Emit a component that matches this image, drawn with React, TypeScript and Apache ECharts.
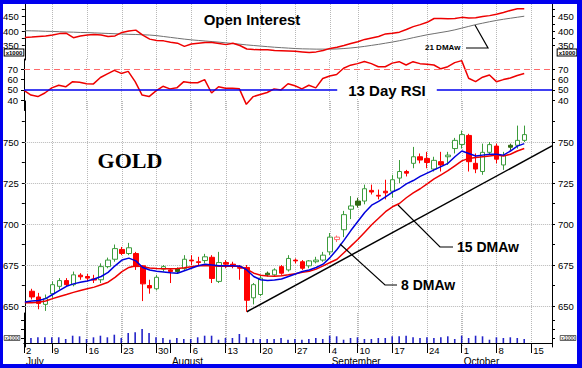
import React, { useEffect, useRef } from 'react';
import * as echarts from 'echarts';

const FONT = '"Liberation Sans", Arial, Helvetica, sans-serif';
const SERIF = '"Liberation Serif", "Times New Roman", serif';
const BLUE = '#0000ee';

// trading days (2007)
const julyDays = [2, 3, 5, 6, 9, 10, 11, 12, 13, 16, 17, 18, 19, 20, 23, 24, 25, 26, 27, 30, 31];
const augustDays = [1, 2, 3, 6, 7, 8, 9, 10, 13, 14, 15, 16, 17, 20, 21, 22, 23, 24, 27, 28, 29, 30, 31];
const septemberDays = [4, 5, 6, 7, 10, 11, 12, 13, 14, 17, 18, 19, 20, 21, 24, 25, 26, 27, 28];
const octoberDays = [1, 2, 3, 4, 5, 8, 9, 10, 11, 12, 15, 16, 17, 18];
const monthNames = ['July', 'August', 'September', 'October'];

// price candles (index 0 = Jul 2, not drawn)
const open = [null, 659, 655.5, 651, 657.5, 662, 665.5, 663, 668.8, 668, 666.5, 666, 674, 678.5, 684.5, 682, 682, 674.5, 662.5, 660.5, 672.5, 672, 671, 672.8, 678, 677, 677.7, 679.7, 665, 676.5, 675.5, 673.5, 673.5, 655, 657, 669, 669, 674, 672, 678, 677, 674.5, 677, 678, 683, 690.5, 696.5, 709, 711.5, 714, 720.5, 717.5, 720, 720, 728, 732, 737, 741, 740, 733.5, 738, 741, 746, 748.5, 754, 737, 732, 743.7, 747.5, 736, 746.8, 748, 751];
const high = [null, 660.5, 658, 657, 665, 667, 667, 671, 670, 669.5, 669, 676, 679.5, 687.5, 686, 688.5, 683, 675, 666, 669, 675, 673, 673.5, 681, 681, 680, 681.8, 681, 683, 678, 677, 675, 675, 664, 669, 671, 673, 675, 681, 679, 678, 678, 680, 683, 694.5, 693, 708, 717, 716, 724, 724, 721, 727, 730, 739, 733, 747, 743, 744, 741, 744, 744, 752.5, 757, 755, 743, 749, 750, 749, 744, 749, 760, 760];
const low = [null, 654, 648, 647, 655, 660, 662, 662, 666, 665, 664, 664, 673, 677, 681, 681, 672, 653, 657.5, 659.5, 671, 664, 670, 672, 675, 675, 676, 664, 664, 673, 673, 666, 646.5, 651, 656, 668, 668, 669, 671, 676, 672, 673, 676, 677, 681, 689, 692, 703, 710, 712, 718, 715, 715, 716, 725, 729, 734, 737, 734, 732, 732, 736, 743, 746, 732, 731, 730, 742, 737, 733, 745, 746, 750];
const close = [null, 655.5, 651.5, 654.5, 663, 665.5, 663, 669, 667.8, 667, 665.8, 674, 678, 685, 682, 685.5, 674, 663.5, 661, 667.5, 674, 671, 672.8, 678.5, 677.5, 676.5, 680, 666.8, 676.5, 675.5, 675, 673, 653.5, 663, 667, 670, 672, 670, 679, 677.5, 673, 677.5, 678, 681, 692, 692, 705.7, 711, 714, 721.5, 719.5, 717, 719, 727, 732, 731, 741, 739, 737.5, 738.8, 736, 742, 751, 754.5, 738, 733.5, 743.7, 748.4, 739.5, 741.7, 748, 751, 754.5];
// candle colouring: u = hollow green, d = red, k = dark green filled, p = pink hollow
const candleKind = ['', 'd', 'd', 'u', 'u', 'u', 'd', 'u', 'd', 'd', 'd', 'u', 'u', 'u', 'd', 'u', 'd', 'd', 'd', 'u', 'u', 'd', 'k', 'u', 'd', 'd', 'u', 'd', 'u', 'd', 'd', 'd', 'd', 'u', 'u', 'k', 'u', 'd', 'u', 'd', 'd', 'u', 'u', 'u', 'u', 'p', 'u', 'u', 'k', 'u', 'd', 'd', 'd', 'u', 'u', 'd', 'u', 'd', 'd', 'u', 'd', 'u', 'u', 'u', 'd', 'd', 'u', 'u', 'd', 'u', 'k', 'u', 'u'];

const ma8 = [652.5, 653, 653.3, 654.5, 657, 659.5, 662, 663.5, 664.5, 665.3, 666.5, 668, 670.5, 674.5, 678, 679.2, 677.5, 673.5, 672, 671.2, 670.8, 670.3, 670, 671.5, 673, 674.5, 675.5, 675, 674.5, 674.5, 674.5, 674.3, 672, 668, 666, 665.5, 665.8, 666.5, 668, 669.5, 671, 672, 673.5, 675.5, 679.5, 684.5, 690, 696, 701.5, 707, 711.5, 713.8, 716.5, 719.5, 721.5, 724.5, 726.5, 729, 731, 733, 735, 737, 741, 744.5, 743, 741.5, 742, 742.5, 742.5, 742, 744.5, 747.5, 749];
const ma15 = [652, 652, 652.3, 653, 654.5, 655.8, 657, 658.3, 659.5, 660.5, 661.5, 663, 664.5, 667.5, 671, 673.5, 674.5, 674, 673.2, 672.8, 672.7, 672.7, 672.8, 673.3, 674, 674.5, 674.7, 674.5, 674.3, 674.3, 674.3, 674.2, 672.5, 670, 668.8, 668.3, 668.2, 668.5, 669, 669.7, 670.5, 671.2, 672.5, 674.5, 676.5, 678.5, 682.5, 686.5, 690.5, 695, 699.5, 703.5, 707.5, 710.5, 712.5, 716, 719, 721.5, 724.5, 727.5, 730, 732.5, 735.5, 738.5, 740, 740.5, 741, 741.5, 742, 741.5, 742.5, 744.5, 746];

const openInterest = [378, 379, 381, 383, 386, 391, 392, 377, 383, 386, 388, 386, 381, 383, 395, 400, 403, 386, 372, 367, 366, 361, 358, 347, 355, 358, 360, 360, 357, 353, 358, 350, 338, 336, 335, 335, 333, 332, 331, 330, 328, 326, 328, 333, 340, 344, 350, 357, 363, 371, 376, 381, 390, 392, 396, 405, 415, 422, 430, 443, 443, 442, 443, 447, 445, 446, 450, 453, 458, 464, 471, 477, 477];
const oiMA21 = [401, 400.5, 400, 399, 398.5, 397.5, 396.5, 396, 395, 394.5, 393.5, 392.5, 391.5, 390.5, 389.5, 388.5, 388, 387, 386, 384, 381, 378, 375, 372, 369.5, 367.5, 365.5, 363.5, 361.5, 359, 357, 354.5, 352, 350, 348, 346, 344, 342.5, 341, 339.5, 338.5, 338, 337.5, 337.5, 337.5, 338, 339.5, 341.5, 344, 347, 350.5, 354, 358, 362, 366.5, 371.5, 377, 382, 387, 391, 395, 399, 404, 410, 416, 422, 427, 432, 436.5, 440.5, 444, 447.5, 451];

const rsi13 = [49.5, 45, 43.5, 47, 52, 54.5, 53, 58, 57.5, 56, 55.8, 62, 65.5, 69, 66, 68, 58, 45, 43.5, 49, 53.5, 51, 52, 58, 57, 57, 60, 47, 53, 51.5, 51.5, 51, 36, 43.5, 45.5, 47.5, 51, 50, 56, 54, 51, 54.5, 52, 61, 63.5, 65, 71, 74, 75.5, 77.5, 75.5, 72.5, 72.5, 76, 77.4, 74.2, 77.4, 75.5, 75, 74.2, 70.5, 72.5, 76.5, 78.4, 61.3, 58, 62.3, 64.5, 58, 60, 61.5, 64, 66];

const volume = [null, 50, 57, 57, 57, 57, 40, 73, 67, 40, 57, 73, 57, 83, 50, 100, 107, 140, 100, 57, 50, 33, 50, 40, 40, 57, 73, 73, 33, 50, 50, 90, 57, 40, 40, 40, 40, 50, 33, 40, 33, 40, 50, 40, 73, 67, 33, 50, 57, 40, 40, 50, 50, 67, 67, 73, 57, 50, 57, 50, 57, 67, 40, 73, 50, 73, 67, 33, 57, 50, 57, 50, 40];

const oiLabels = [350, 400, 450];
const oiTicks = [350, 375, 400, 425, 450, 475];
const rsiLabels = [40, 50, 60, 70];
const priceLabels = [650, 675, 700, 725, 750];
const priceTicks = [650, 662.5, 675, 687.5, 700, 712.5, 725, 737.5, 750, 762.5];
const volTicks = [50, 140, 230];

// trend line anchors (category index, price)
const trendStart = [32, 646.5];
const trendEnd = [76, 747.6];

export default function App() {
  const ref = useRef<HTMLDivElement>(null);

  useEffect(() => {
    if (!ref.current) return;
    const chart = echarts.init(ref.current, undefined, { renderer: 'svg' });

    const monthDays = [julyDays, augustDays, septemberDays, octoberDays];
    const cats: string[] = [];
    const monthOf: number[] = [];
    const dayOf: number[] = [];
    const dowOf: number[] = [];
    monthDays.forEach((days, k) => {
      days.forEach((d) => {
        cats.push(monthNames[k].slice(0, 3) + ' ' + d);
        monthOf.push(k);
        dayOf.push(d);
        dowOf.push(new Date(2007, 6 + k, d).getDay());
      });
    });
    const weekStart = cats.map((_, i) => i === 0 || dowOf[i] < dowOf[i - 1]);
    const monthStart = cats.map((_, i) => i === 0 || monthOf[i] !== monthOf[i - 1]);

    const gridL = 24;
    const gridR = 30;
    const grids = [
      { left: gridL, right: gridR, top: 2, height: 58 },
      { left: gridL, right: gridR, top: 59, height: 51.5 },
      { left: gridL, right: gridR, top: 101, height: 246 },
      { left: gridL, right: gridR, top: 313, height: 30 },
    ];

    const vSplit = {
      show: true,
      interval: (i: number) => weekStart[i],
      lineStyle: { type: 'dotted', color: '#b8b8b8', width: 1 },
    };

    const xAxes: any[] = [0, 1, 2].map((g) => ({
      type: 'category',
      gridIndex: g,
      data: cats,
      boundaryGap: false,
      axisLine: { show: false },
      axisTick: { show: false },
      axisLabel: { show: false },
      splitLine: vSplit,
    }));
    xAxes.push({
      type: 'category',
      gridIndex: 3,
      data: cats,
      boundaryGap: false,
      axisLine: { show: true, lineStyle: { color: '#000', width: 1 } },
      axisTick: {
        show: true,
        length: 10,
        interval: (i: number) => weekStart[i] || monthStart[i],
        lineStyle: { color: '#000', width: 1 },
      },
      axisLabel: {
        show: true,
        interval: (i: number) => weekStart[i],
        formatter: (_v: string, i: number) => String(dayOf[i]),
        align: 'left',
        padding: [0, 0, 0, 2],
        margin: 2,
        fontSize: 9.5,
        color: '#000',
        fontFamily: FONT,
      },
      splitLine: vSplit,
    });
    xAxes.push({
      type: 'category',
      gridIndex: 3,
      position: 'bottom',
      offset: 10,
      data: cats,
      boundaryGap: false,
      axisLine: { show: true, lineStyle: { color: '#000', width: 1 } },
      axisTick: {
        show: true,
        length: 10,
        interval: (i: number) => monthStart[i],
        lineStyle: { color: '#000', width: 1 },
      },
      axisLabel: {
        show: true,
        interval: (i: number) => monthStart[i],
        formatter: (_v: string, i: number) => monthNames[monthOf[i]],
        align: 'left',
        padding: [0, 0, 0, 2],
        margin: 3,
        fontSize: 10,
        color: '#000',
        fontFamily: FONT,
      },
      splitLine: { show: false },
    });

    const yAx = (g: number, pos: string, min: number, max: number, interval: number, labels: number[], ticks: number[]) => ({
      type: 'value',
      gridIndex: g,
      position: pos,
      min,
      max,
      interval,
      axisLine: { show: true, lineStyle: { color: '#000', width: 1 } },
      axisTick: { show: true, length: 3, lineStyle: { color: '#000', width: 1 }, customValues: ticks },
      axisLabel: {
        show: labels.length > 0,
        customValues: labels,
        formatter: (v: number) => (labels.indexOf(v) >= 0 ? String(v) : ''),
        fontSize: 9.5,
        color: '#000',
        fontFamily: FONT,
        margin: 6,
      },
      splitLine: { show: false },
    });

    const yAxes = [
      yAx(0, 'left', 300, 500, 50, oiLabels, oiTicks),
      yAx(0, 'right', 300, 500, 50, oiLabels, oiTicks),
      yAx(1, 'left', 30, 80, 10, rsiLabels, rsiLabels),
      yAx(1, 'right', 30, 80, 10, rsiLabels, rsiLabels),
      yAx(2, 'left', 625, 775, 25, priceLabels, priceTicks),
      yAx(2, 'right', 625, 775, 25, priceLabels, priceTicks),
      yAx(3, 'left', 0, 300, 50, [], volTicks),
      yAx(3, 'right', 0, 300, 50, [], volTicks),
    ];

    const kindStyle: Record<string, any> = {
      k: { color: '#2f6a10', color0: '#2f6a10', borderColor: '#2f6a10', borderColor0: '#2f6a10' },
      p: { color: '#ffffff', color0: '#ffffff', borderColor: '#ff6a6a', borderColor0: '#ff6a6a' },
    };
    const candleData = open.map((o, i) => {
      if (o === null) return '-';
      const item: any = { value: [o, close[i], low[i], high[i]] };
      if (kindStyle[candleKind[i]]) item.itemStyle = kindStyle[candleKind[i]];
      return item;
    });

    const dotted = { type: 'dotted', color: '#b8b8b8', width: 1 };

    const option: any = {
      animation: false,
      backgroundColor: '#ffffff',
      textStyle: { fontFamily: FONT },
      grid: grids,
      xAxis: xAxes,
      yAxis: yAxes,
      series: [
        {
          type: 'line', name: 'Open Interest', xAxisIndex: 0, yAxisIndex: 0, data: openInterest,
          symbol: 'none', lineStyle: { color: '#ee0000', width: 1.5 }, z: 4,
        },
        {
          type: 'line', name: '21 DMAw', xAxisIndex: 0, yAxisIndex: 0, data: oiMA21,
          symbol: 'none', lineStyle: { color: '#707070', width: 1 }, z: 3,
        },
        {
          type: 'line', name: '13 Day RSI', xAxisIndex: 1, yAxisIndex: 2, data: rsi13,
          symbol: 'none', lineStyle: { color: '#ee0000', width: 1.5 }, z: 4,
          markLine: {
            silent: true, symbol: ['none', 'none'], label: { show: false },
            data: [
              { yAxis: 70, lineStyle: { color: '#ff6a6a', type: [6, 4], width: 1 } },
              { yAxis: 50, lineStyle: { color: '#0000ee', type: 'solid', width: 1.5 } },
            ],
          },
        },
        {
          type: 'candlestick', name: 'GOLD', xAxisIndex: 2, yAxisIndex: 4, data: candleData,
          barWidth: 5,
          itemStyle: { color: '#ffffff', color0: '#ff0000', borderColor: '#3c9c3c', borderColor0: '#ff0000', borderWidth: 1 },
          markLine: {
            silent: true, symbol: ['none', 'none'], label: { show: false }, z: 1,
            data: [
              ...priceLabels.map((v) => ({ yAxis: v, lineStyle: dotted })),
              [
                { coord: [cats[trendStart[0]], trendStart[1]], lineStyle: { color: '#000', type: 'solid', width: 1.5 } },
                { coord: [cats[trendEnd[0]], trendEnd[1]] },
              ],
            ],
          },
        },
        {
          type: 'line', name: '15 DMAw', xAxisIndex: 2, yAxisIndex: 4, data: ma15,
          symbol: 'none', lineStyle: { color: '#ee0000', width: 1.5 }, z: 5,
        },
        {
          type: 'line', name: '8 DMAw', xAxisIndex: 2, yAxisIndex: 4, data: ma8,
          symbol: 'none', lineStyle: { color: '#0000dd', width: 1.5 }, z: 6,
        },
        {
          type: 'bar', name: 'Volume', xAxisIndex: 3, yAxisIndex: 6, data: volume,
          barWidth: 1.6, itemStyle: { color: '#2323c8' },
        },
      ],
      graphic: [
        { type: 'rect', z: 100, shape: { x: 0, y: 0, width: 582, height: 4 }, style: { fill: BLUE } },
        { type: 'rect', z: 100, shape: { x: 0, y: 364, width: 582, height: 4 }, style: { fill: BLUE } },
        { type: 'rect', z: 100, shape: { x: 0, y: 0, width: 3, height: 368 }, style: { fill: BLUE } },
        { type: 'rect', z: 100, shape: { x: 577, y: 0, width: 5, height: 368 }, style: { fill: BLUE } },
        {
          type: 'text', z: 50, x: 252, y: 19,
          style: { text: 'Open Interest', fontSize: 15, fontWeight: 'bold', fontFamily: FONT, fill: '#000', align: 'center', verticalAlign: 'middle' },
        },
        {
          type: 'text', z: 50, x: 387, y: 90,
          style: { text: '13 Day RSI', fontSize: 15, fontWeight: 'bold', fontFamily: FONT, fill: '#000', align: 'center', verticalAlign: 'middle', backgroundColor: '#ffffff', padding: [1, 11] },
        },
        {
          type: 'text', z: 50, x: 130, y: 160,
          style: { text: 'GOLD', fontSize: 22, fontWeight: 'bold', fontFamily: SERIF, fill: '#000', align: 'center', verticalAlign: 'middle' },
        },
        {
          type: 'text', z: 50, x: 425, y: 47,
          style: { text: '21 DMAw', fontSize: 8, fontWeight: 'bold', fontFamily: FONT, fill: '#000', align: 'left', verticalAlign: 'middle' },
        },
        { type: 'polyline', z: 50, shape: { points: [[466, 48], [488, 48], [475, 25]] }, style: { stroke: '#000', lineWidth: 1.2, fill: null } },
        { type: 'polyline', z: 50, shape: { points: [[398, 205], [440, 247], [453, 247]] }, style: { stroke: '#000', lineWidth: 1.2, fill: null } },
        {
          type: 'text', z: 50, x: 457, y: 247,
          style: { text: '15 DMAw', fontSize: 14, fontWeight: 'bold', fontFamily: FONT, fill: '#000', align: 'left', verticalAlign: 'middle' },
        },
        { type: 'polyline', z: 50, shape: { points: [[340, 244], [385, 285], [397, 285]] }, style: { stroke: '#000', lineWidth: 1.2, fill: null } },
        {
          type: 'text', z: 50, x: 401, y: 285,
          style: { text: '8 DMAw', fontSize: 14, fontWeight: 'bold', fontFamily: FONT, fill: '#000', align: 'left', verticalAlign: 'middle' },
        },
        {
          type: 'text', z: 50, x: 14, y: 52.5,
          style: { text: 'x1000', fontSize: 6, fontWeight: 'bold', fontFamily: FONT, fill: '#000', align: 'center', verticalAlign: 'middle', backgroundColor: '#ffffff', borderColor: '#000', borderWidth: 1, padding: [0, 1] },
        },
        {
          type: 'text', z: 50, x: 567, y: 52.5,
          style: { text: 'x1000', fontSize: 6, fontWeight: 'bold', fontFamily: FONT, fill: '#000', align: 'center', verticalAlign: 'middle', backgroundColor: '#ffffff', borderColor: '#000', borderWidth: 1, padding: [0, 1] },
        },
        {
          type: 'text', z: 50, x: 12, y: 338,
          style: { text: 'x1000', fontSize: 5, fontFamily: FONT, fill: '#000', align: 'center', verticalAlign: 'middle', borderColor: '#000', borderWidth: 0.6, padding: [0, 1] },
        },
        {
          type: 'text', z: 50, x: 568, y: 338,
          style: { text: 'x1000', fontSize: 5, fontFamily: FONT, fill: '#000', align: 'center', verticalAlign: 'middle', borderColor: '#000', borderWidth: 0.6, padding: [0, 1] },
        },
      ],
    };

    chart.setOption(option);
    return () => chart.dispose();
  }, []);

  return <div ref={ref} style={{ position: 'absolute', left: 0, top: 0, width: 582, height: 368, background: '#fff' }} />;
}
